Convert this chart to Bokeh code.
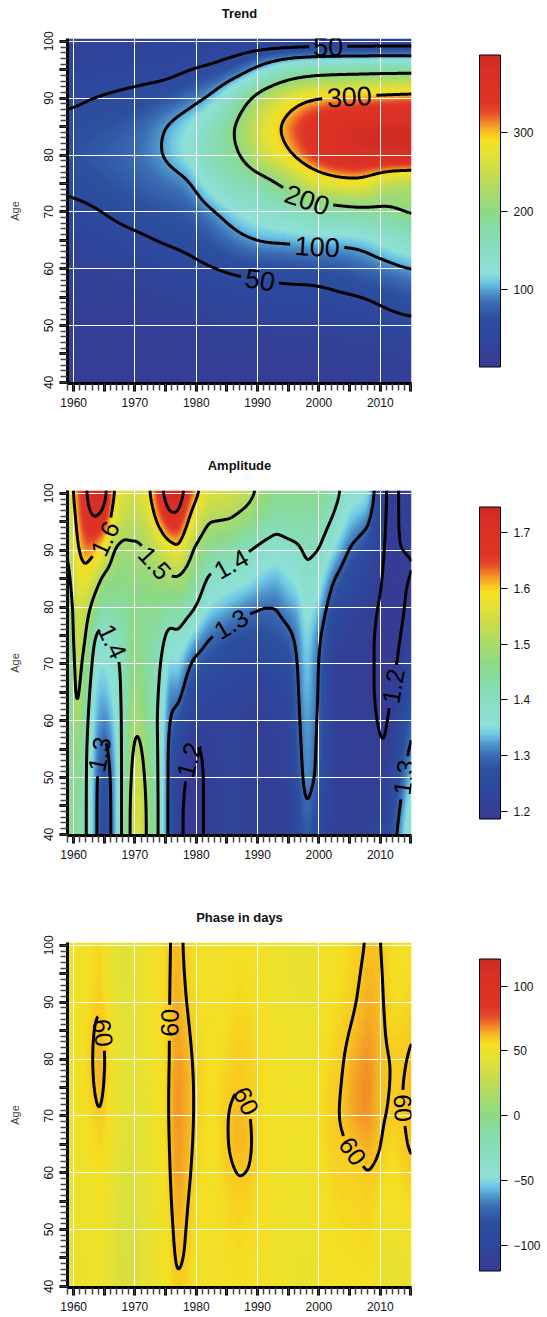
import numpy as np
import contourpy
from bokeh.plotting import figure
from bokeh.layouts import column
from bokeh.models import LinearColorMapper, ColorBar, FixedTicker, Range1d
from bokeh.core.properties import value
from bokeh.embed import file_html
from bokeh.resources import INLINE

# ---------------- data ----------------
AGES = [100, 95, 90, 85, 80, 75, 70, 65, 60, 55, 50, 45, 40]

trend_years = [1959, 1963, 1967, 1971, 1975, 1979, 1983, 1987, 1991, 1995, 1999, 2003, 2007, 2011, 2015]
trend_cols = [
    [25, 30, 42, 60, 68, 55, 42, 30, 22, 18, 15, 12, 10],
    [25, 35, 50, 65, 72, 62, 46, 32, 22, 16, 13, 11, 10],
    [25, 38, 54, 70, 78, 70, 56, 40, 26, 18, 14, 11, 10],
    [25, 40, 58, 80, 85, 76, 62, 46, 30, 20, 15, 12, 10],
    [26, 38, 68, 102, 104, 84, 68, 53, 35, 22, 16, 12, 10],
    [28, 48, 85, 125, 130, 92, 72, 58, 42, 26, 18, 13, 11],
    [26, 55, 110, 160, 175, 150, 97, 72, 49, 32, 20, 14, 11],
    [24, 75, 175, 215, 195, 165, 125, 92, 55, 35, 22, 15, 12],
    [18, 120, 240, 275, 260, 175, 140, 105, 58, 38, 25, 16, 12],
    [12, 160, 280, 320, 295, 215, 150, 105, 62, 40, 25, 16, 12],
    [12, 175, 305, 360, 345, 260, 170, 110, 65, 38, 26, 17, 12],
    [12, 180, 310, 385, 375, 280, 175, 108, 68, 45, 28, 18, 12],
    [12, 182, 315, 390, 385, 285, 185, 108, 80, 48, 30, 18, 12],
    [12, 185, 320, 395, 390, 230, 190, 130, 88, 58, 38, 22, 14],
    [12, 185, 325, 395, 390, 220, 210, 150, 100, 68, 42, 25, 15],
]
trend_levels = [50, 100, 200, 300]
trend_labels = [(50, 2001.5, 99.0), (300, 2005.0, 90.5), (200, 1998.0, 72.0),
                (100, 1999.8, 64.2), (50, 1990.5, 58.5)]

amp_years = [1959, 1960.5, 1962, 1963.5, 1965, 1966.5, 1968, 1969.3, 1970.5, 1972, 1974, 1975.5,
             1977, 1979.5, 1982, 1985.5, 1988.5, 1991, 1993, 1995, 1996.5, 1998, 2000, 2002.5,
             2005, 2008, 2011, 2013, 2015]
amp_cols = [
    [1.55, 1.52, 1.50, 1.47, 1.44, 1.42, 1.40, 1.40, 1.41, 1.42, 1.43, 1.44, 1.44],
    [1.63, 1.61, 1.59, 1.57, 1.55, 1.55, 1.54, 1.53, 1.51, 1.48, 1.46, 1.45, 1.45],
    [1.70, 1.68, 1.63, 1.58, 1.53, 1.505, 1.47, 1.44, 1.42, 1.41, 1.41, 1.41, 1.41],
    [1.74, 1.70, 1.61, 1.53, 1.47, 1.39, 1.36, 1.34, 1.33, 1.32, 1.31, 1.31, 1.31],
    [1.74, 1.67, 1.57, 1.48, 1.43, 1.38, 1.35, 1.33, 1.31, 1.28, 1.26, 1.25, 1.25],
    [1.60, 1.56, 1.495, 1.47, 1.44, 1.41, 1.38, 1.36, 1.34, 1.33, 1.32, 1.32, 1.32],
    [1.56, 1.53, 1.48, 1.46, 1.44, 1.42, 1.41, 1.41, 1.41, 1.41, 1.41, 1.41, 1.41],
    [1.54, 1.52, 1.49, 1.47, 1.46, 1.46, 1.46, 1.47, 1.48, 1.49, 1.50, 1.51, 1.51],
    [1.55, 1.52, 1.49, 1.47, 1.46, 1.46, 1.47, 1.48, 1.495, 1.52, 1.55, 1.57, 1.58],
    [1.58, 1.54, 1.50, 1.47, 1.45, 1.44, 1.44, 1.44, 1.45, 1.47, 1.48, 1.49, 1.49],
    [1.68, 1.62, 1.53, 1.48, 1.46, 1.43, 1.41, 1.40, 1.39, 1.39, 1.39, 1.39, 1.39],
    [1.74, 1.68, 1.56, 1.49, 1.44, 1.38, 1.34, 1.31, 1.30, 1.29, 1.29, 1.29, 1.29],
    [1.75, 1.68, 1.59, 1.49, 1.45, 1.39, 1.35, 1.32, 1.28, 1.24, 1.22, 1.21, 1.21],
    [1.63, 1.56, 1.495, 1.46, 1.41, 1.34, 1.29, 1.25, 1.22, 1.19, 1.18, 1.18, 1.18],
    [1.56, 1.50, 1.45, 1.39, 1.35, 1.305, 1.27, 1.24, 1.22, 1.21, 1.21, 1.21, 1.21],
    [1.55, 1.495, 1.43, 1.37, 1.33, 1.28, 1.25, 1.23, 1.22, 1.22, 1.22, 1.22, 1.22],
    [1.52, 1.47, 1.40, 1.36, 1.31, 1.27, 1.24, 1.22, 1.21, 1.21, 1.21, 1.21, 1.21],
    [1.48, 1.44, 1.38, 1.34, 1.30, 1.27, 1.24, 1.22, 1.21, 1.21, 1.21, 1.21, 1.21],
    [1.46, 1.42, 1.37, 1.33, 1.30, 1.28, 1.25, 1.23, 1.22, 1.21, 1.21, 1.21, 1.21],
    [1.46, 1.43, 1.38, 1.35, 1.32, 1.29, 1.26, 1.24, 1.23, 1.22, 1.22, 1.21, 1.21],
    [1.46, 1.43, 1.39, 1.36, 1.33, 1.31, 1.30, 1.295, 1.29, 1.283, 1.275, 1.265, 1.255],
    [1.45, 1.43, 1.41, 1.39, 1.37, 1.355, 1.345, 1.34, 1.33, 1.325, 1.32, 1.303, 1.29],
    [1.46, 1.43, 1.40, 1.37, 1.34, 1.31, 1.30, 1.298, 1.295, 1.292, 1.29, 1.27, 1.25],
    [1.42, 1.39, 1.35, 1.30, 1.26, 1.23, 1.21, 1.21, 1.21, 1.21, 1.21, 1.21, 1.21],
    [1.37, 1.34, 1.295, 1.26, 1.23, 1.21, 1.205, 1.205, 1.205, 1.205, 1.205, 1.205, 1.205],
    [1.36, 1.31, 1.26, 1.23, 1.21, 1.205, 1.205, 1.205, 1.205, 1.205, 1.205, 1.21, 1.21],
    [1.19, 1.19, 1.19, 1.19, 1.19, 1.19, 1.19, 1.19, 1.195, 1.20, 1.21, 1.23, 1.25],
    [1.20, 1.20, 1.20, 1.195, 1.19, 1.195, 1.20, 1.21, 1.23, 1.25, 1.27, 1.29, 1.31],
    [1.21, 1.21, 1.20, 1.20, 1.21, 1.22, 1.25, 1.27, 1.29, 1.31, 1.34, 1.37, 1.39],
]
amp_levels = [1.2, 1.3, 1.4, 1.5, 1.6, 1.7]
amp_labels = [(1.6, 1964.7, 92.3), (1.5, 1973.7, 88.2), (1.4, 1985.6, 87.7), (1.3, 1985.6, 77.0),
              (1.4, 1966.5, 74.0), (1.3, 1964.7, 54.0), (1.2, 1979.4, 53.0), (1.2, 2012.5, 66.0),
              (1.3, 2014.3, 50.0)]

phase_years = [1959, 1961, 1963, 1964.2, 1965.5, 1967.5, 1969.5, 1971.5, 1974, 1975.5, 1976.7,
               1978.2, 1980, 1982.5, 1985, 1987, 1988.8, 1990.5, 1994, 1998, 2002, 2004, 2006,
               2008, 2010, 2012, 2014, 2015]
phase_cols = [
    [53, 53, 53, 52, 51, 51, 50, 50, 50, 49, 49, 48, 48],
    [50, 51, 52, 53, 53, 53, 52, 51, 50, 49, 48, 48, 48],
    [55, 56, 57, 59, 59.5, 59, 57, 55, 53, 52, 51, 50, 50],
    [58, 58.5, 59.3, 63, 65, 63, 60.3, 58, 56, 54, 52, 51, 50],
    [50, 52, 55, 57, 58, 57.5, 56, 54, 52, 50, 48, 47, 46],
    [40, 40, 41, 42, 43, 43, 43, 42, 41, 40, 39, 38, 38],
    [44, 44, 45, 45, 45, 44, 43, 42, 40, 39, 38, 37, 37],
    [50, 50, 50, 50, 49, 48, 47, 46, 46, 45, 45, 45, 45],
    [54, 54, 54, 54, 53, 53, 52, 52, 51, 51, 50, 50, 50],
    [59, 59, 59, 59, 59, 59.5, 59.8, 59, 58, 57, 56, 55, 54],
    [63, 64, 65, 66, 67, 68, 68, 67.5, 67, 65, 63, 61.5, 59.5],
    [59, 59.5, 60.5, 62, 63.5, 64.5, 64.5, 64, 63, 61.5, 60.5, 59.8, 58],
    [54, 55, 56, 57, 58, 58.5, 58.5, 58, 57, 56, 55, 54, 53],
    [50, 51, 52, 53, 54, 54, 54, 53, 53, 52, 51, 50, 50],
    [53, 54, 55, 56, 57, 58.5, 59.8, 59.8, 58.5, 57, 56, 55, 54],
    [55, 56, 57, 58, 59, 59.8, 63, 63, 60.5, 58, 57, 56, 55],
    [54, 55, 56, 57, 58, 58.5, 60.2, 61, 59.8, 57, 56, 55, 54],
    [52, 53, 54, 55, 55.5, 56, 56, 56, 55.5, 55, 54, 53, 53],
    [49, 49, 50, 51, 52, 52, 52, 52, 51, 51, 50, 50, 50],
    [47, 47, 48, 49, 50, 51, 51, 51, 51, 50, 49, 48, 47],
    [53, 54, 55, 56, 57, 58, 58.5, 58, 57, 56, 55, 54, 53],
    [55, 56, 57, 58.5, 59.8, 60.5, 61, 59.5, 58, 57, 56, 55, 54],
    [57.5, 58.5, 59.7, 61.5, 64, 66, 66, 60.8, 58, 57, 56, 55, 54],
    [61, 62.5, 64, 66, 68, 69, 68, 64, 59.8, 58, 57, 56, 55],
    [60.5, 61, 61.5, 62, 62, 61.5, 61, 60.3, 58, 56, 54, 52, 50],
    [55, 55.5, 56, 57, 59.5, 59.5, 59, 56, 54, 52, 49, 46, 44],
    [54, 55, 56, 58, 59.5, 60, 60, 59.5, 58, 55, 52, 49, 47],
    [55, 56, 57.5, 59.5, 61, 62, 62, 60.8, 59, 56, 53, 50, 48],
]
phase_levels = [60]
phase_labels = [(60, 1964.4, 84.5), (60, 1976.0, 86.4), (60, 1987.9, 72.5),
                (60, 2005.7, 63.9), (60, 2014.5, 71.5)]

# ---------------- styling helpers ----------------
FONT = "Liberation Sans"
X0, X1 = 1959.0, 2015.1
Y0, Y1 = 39.8, 100.5
FW, FH = 344, 345
SX = FW / (X1 - X0)
SY = FH / (Y1 - Y0)
NX, NY = 344, 345

ANCHORS = [(0.0, "#383A93"), (0.087, "#2D479C"), (0.16, "#2D50A0"), (0.205, "#3B6DB4"),
           (0.237, "#4E94CA"), (0.27, "#6CC6E6"), (0.30, "#8FE0D8"), (0.365, "#88DEC6"),
           (0.44, "#86DBA8"), (0.497, "#8ED984"), (0.558, "#A9DB6A"), (0.62, "#C8DC4C"),
           (0.686, "#E6E234"), (0.728, "#F5DF22"), (0.75, "#F7C51F"), (0.775, "#F39A25"),
           (0.80, "#EE6A2A"), (0.82, "#E4472A"), (0.85, "#DE3326"), (0.95, "#D93025"),
           (1.0, "#CC2A22")]


def make_palette(n=256):
    fr = np.array([a[0] for a in ANCHORS])
    rgb = np.array([[int(h[i:i + 2], 16) for i in (1, 3, 5)] for _, h in ANCHORS], float)
    out = []
    for v in np.linspace(0, 1, n):
        c = [np.interp(v, fr, rgb[:, k]) for k in range(3)]
        out.append("#%02x%02x%02x" % tuple(int(round(x)) for x in c))
    return out


PAL = make_palette()


def gauss(sig):
    r = int(3 * sig) + 1
    k = np.exp(-0.5 * (np.arange(-r, r + 1) / sig) ** 2)
    return k / k.sum()


def smooth(F, sx, sy):
    kx, ky = gauss(sx), gauss(sy)
    rx, ry = len(kx) // 2, len(ky) // 2
    P = np.pad(F, ((0, 0), (rx, rx)), mode="edge")
    F = np.array([np.convolve(r, kx, mode="valid") for r in P])
    P = np.pad(F, ((ry, ry), (0, 0)), mode="edge")
    F = np.array([np.convolve(P[:, j], ky, mode="valid") for j in range(P.shape[1])]).T
    return F


def build_field(years, cols, sig_x, sig_y):
    Z = np.array(cols, float).T[::-1]
    ages = np.array(AGES[::-1], float)
    xf = np.linspace(X0, X1, NX)
    yf = np.linspace(Y0, Y1, NY)
    A = np.array([np.interp(xf, years, r) for r in Z])
    F = np.array([np.interp(yf, ages, A[:, j]) for j in range(NX)]).T
    F = smooth(F, sig_x / ((X1 - X0) / (NX - 1)), sig_y / ((Y1 - Y0) / (NY - 1)))
    return xf, yf, F


def text_width(s, fs):
    return sum(0.278 if ch == "." else 0.556 for ch in s) * fs


def label_lines(lines, specs, fsize):
    tx, ty, tt, ta = [], [], [], []
    for (lvl, lx, ly) in specs:
        cand = lines.get(lvl, [])
        if not cand:
            continue
        best = None
        for i, L in enumerate(cand):
            d = np.hypot((L[:, 0] - lx) * SX, (L[:, 1] - ly) * SY)
            j = int(np.argmin(d))
            if best is None or d[j] < best[0]:
                best = (d[j], i, j)
        _, i, j = best
        L = cand.pop(i)
        closed = len(L) > 3 and np.allclose(L[0], L[-1])
        if closed:
            C = L[:-1]
            n = len(C)
            C = np.roll(C, n // 2 - j, axis=0)
            L = np.vstack([C, C[:1]])
            j = n // 2
        P = np.column_stack([(L[:, 0] - X0) * SX, (L[:, 1] - Y0) * SY])
        s = np.concatenate([[0.0], np.cumsum(np.hypot(np.diff(P[:, 0]), np.diff(P[:, 1])))])
        text = f"{lvl:g}"
        half = text_width(text, fsize) / 2 + 4
        s0 = s[j]
        cx = np.interp(s0, s, L[:, 0])
        cy = np.interp(s0, s, L[:, 1])
        a0 = max(s0 - half * 0.8, 0.0)
        a1 = min(s0 + half * 0.8, s[-1])
        dx = np.interp(a1, s, P[:, 0]) - np.interp(a0, s, P[:, 0])
        dy = np.interp(a1, s, P[:, 1]) - np.interp(a0, s, P[:, 1])
        ang = float(np.arctan2(dy, dx))
        if ang > np.pi / 2 + 1e-6:
            ang -= np.pi
        elif ang <= -np.pi / 2 + 1e-6:
            ang += np.pi
        before = L[s <= s0 - half]
        after = L[s >= s0 + half]
        if closed:
            if len(after) and len(before):
                piece = np.vstack([after, before])
            else:
                piece = after if len(after) else before
            if len(piece) > 1:
                cand.append(piece)
        else:
            for q in (before, after):
                if len(q) > 1:
                    cand.append(q)
        tx.append(cx)
        ty.append(cy)
        tt.append(text)
        ta.append(ang)
    return tx, ty, tt, ta


def panel(title, years, cols, levels, labels, low, high, cticks, cover, bottom, sig_x, sig_y, fsize):
    xf, yf, F = build_field(years, cols, sig_x, sig_y)
    mapper = LinearColorMapper(palette=PAL, low=low, high=high)
    p = figure(frame_width=FW, frame_height=FH, x_range=Range1d(X0, X1), y_range=Range1d(Y0, Y1),
               output_backend="svg", toolbar_location=None, min_border_left=67,
               min_border_right=136, min_border_top=38, min_border_bottom=bottom)
    p.outline_line_color = None

    # title: a blank second line lifts the text toward the top of the border
    p.title.text = title + "\n "
    p.title.align = "center"
    p.title.text_font = FONT
    p.title.text_font_size = "13px"
    p.title.text_font_style = "bold"
    p.title.text_color = "#111111"
    p.title.text_line_height = 1.2
    p.title.standoff = 0

    p.image(image=[F.astype(np.float32)], x=X0, y=Y0, dw=X1 - X0, dh=Y1 - Y0,
            color_mapper=mapper, level="image")

    gen = contourpy.contour_generator(xf, yf, F)
    lines = {}
    for lv in levels:
        lines[lv] = [np.asarray(a) for a in gen.lines(lv) if len(a) > 1]
    tx, ty, tt, ta = label_lines(lines, labels, fsize)
    xs, ys = [], []
    for lv in levels:
        for L in lines[lv]:
            xs.append(list(L[:, 0]))
            ys.append(list(L[:, 1]))
    p.multi_line(xs, ys, line_color="black", line_width=3)
    p.text(x=tx, y=ty, text=tt, angle=ta, text_align="center", text_baseline="middle",
           text_font=value(FONT), text_font_size=f"{fsize}px", text_color="black")

    # axes
    xa = p.xaxis[0]
    xa.ticker = FixedTicker(ticks=list(range(1960, 2016, 5)), minor_ticks=list(range(1959, 2016)))
    xa.major_label_overrides = {y: "" for y in range(1965, 2016, 10)}
    ya = p.yaxis[0]
    ya.ticker = FixedTicker(ticks=list(range(40, 101, 5)), minor_ticks=list(range(40, 101)))
    ya.major_label_overrides = {a: "" for a in range(45, 100, 10)}
    ya.major_label_orientation = "parallel"
    ya.axis_label = "Age"
    ya.axis_label_text_font = FONT
    ya.axis_label_text_font_size = "11px"
    ya.axis_label_text_font_style = "normal"
    ya.axis_label_standoff = 21
    for ax in (xa, ya):
        ax.axis_line_width = 3
        ax.axis_line_color = "black"
        ax.major_tick_line_width = 3
        ax.major_tick_line_color = "black"
        ax.major_tick_out = 8
        ax.major_tick_in = 0
        ax.minor_tick_line_width = 1.5
        ax.minor_tick_line_color = "#444444"
        ax.minor_tick_out = 7
        ax.minor_tick_in = 0
        ax.major_label_text_font = FONT
        ax.major_label_text_font_size = "12px"
        ax.major_label_text_color = "#111111"
        ax.major_label_standoff = 6

    p.xgrid.ticker = FixedTicker(ticks=list(range(1960, 2011, 10)))
    p.ygrid.ticker = FixedTicker(ticks=list(range(50, 101, 10)))
    p.xgrid.grid_line_color = "white"
    p.ygrid.grid_line_color = "white"
    p.xgrid.grid_line_width = 1
    p.ygrid.grid_line_width = 1

    cb = ColorBar(color_mapper=mapper, ticker=FixedTicker(ticks=cticks), width=21, height=312,
                  location=(FW + 68, (FH - 312) / 2), margin=0, padding=0,
                  major_tick_out=7, major_tick_in=0,
                  major_tick_line_color="black", minor_tick_line_color=None,
                  bar_line_color="black", bar_line_width=1, label_standoff=6,
                  major_label_text_font=FONT, major_label_text_font_size="12px",
                  major_label_text_color="#111111",
                  background_fill_alpha=0, border_line_color=None,
                  major_label_overrides=cover)
    p.add_layout(cb, "center")
    return p


p1 = panel("Trend", trend_years, trend_cols, trend_levels, trend_labels, 2, 399,
           [100, 200, 300], {}, 69, 1.5, 1.5, 27)
p2 = panel("Amplitude", amp_years, amp_cols, amp_levels, amp_labels, 1.186, 1.746,
           [1.2, 1.3, 1.4, 1.5, 1.6, 1.7], {}, 69, 0.45, 1.5, 25)
p3 = panel("Phase in days", phase_years, phase_cols, phase_levels, phase_labels, -119.5, 120.8,
           [-100, -50, 0, 50, 100], {-100: "\u2212100", -50: "\u221250"}, 30, 0.45, 1.5, 25)

layout = column(p1, p2, p3, spacing=0)
open("out.html", "w").write(file_html(layout, INLINE))
